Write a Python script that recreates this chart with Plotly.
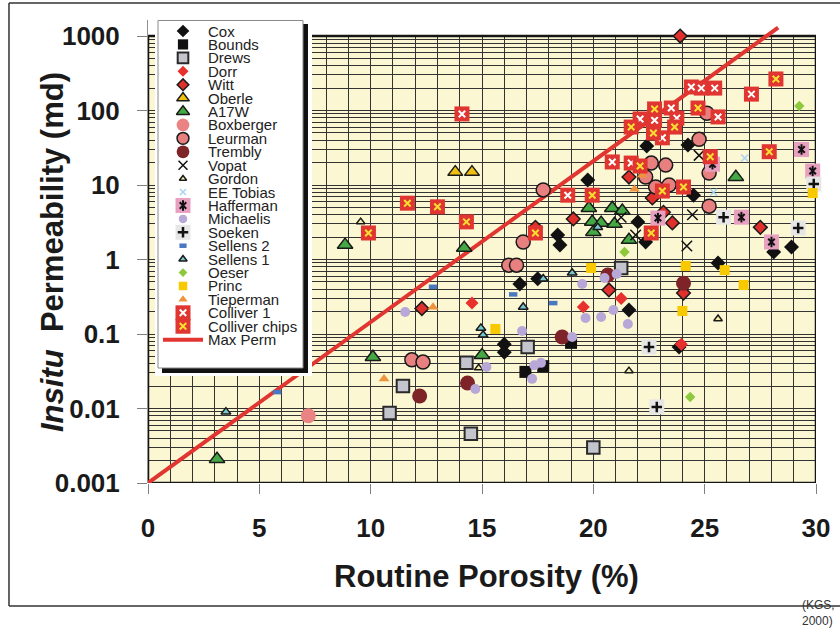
import plotly.graph_objects as go

# ---------------- data: routine porosity (%) vs in-situ permeability (md) ----------------
COX_PHI = [16.0, 16.0, 16.7, 17.5, 18.4, 18.5, 19.75, 22.0, 22.35, 22.4, 21.6, 23.85, 24.25, 24.5, 25.6, 28.1, 28.9]
COX_K = [0.073, 0.057, 0.47, 0.55, 2.13, 1.57, 11.7, 3.2, 1.72, 33.4, 0.21, 0.067, 34.4, 7.3, 0.90, 1.26, 1.47]

BOUNDS_PHI = [16.95, 17.75, 19.0]
BOUNDS_K = [0.031, 0.037, 0.076]

DREWS_PHI = [10.85, 11.45, 14.3, 14.5, 17.05, 20.0, 21.25]
DREWS_K = [0.0087, 0.020, 0.041, 0.0046, 0.067, 0.0030, 0.77]

DORR_PHI = [14.55, 19.55, 21.25, 23.95]
DORR_K = [0.26, 0.23, 0.30, 0.073]

WITT_PHI = [23.9, 17.4, 12.3, 19.1, 20.7, 21.6, 22.65, 23.15, 23.55, 24.05, 27.5]
WITT_K = [1000, 2.7, 0.22, 3.5, 0.39, 12.8, 6.7, 4.3, 3.1, 0.355, 2.7]

OBERLE_PHI = [13.8, 14.55]
OBERLE_K = [14.9, 14.9]

A17W_PHI = [3.1, 8.85, 10.1, 14.2, 15.0, 19.8, 20.0, 20.85, 21.3, 19.95, 20.35, 20.95, 21.6, 26.4]
A17W_K = [0.0021, 1.57, 0.049, 1.43, 0.052, 4.9, 2.34, 4.9, 4.5, 3.2, 3.1, 3.0, 1.83, 12.8]

BOXBERGER_PHI = [7.2]
BOXBERGER_K = [0.008]

LEURMAN_PHI = [11.85, 12.35, 16.2, 16.55, 16.85, 17.75, 22.35, 22.6, 22.8, 23.25, 23.4, 24.75, 25.1, 25.2, 25.2]
LEURMAN_K = [0.045, 0.042, 0.84, 0.84, 1.72, 8.6, 12.8, 19.7, 9.4, 18.5, 10.0, 41, 92, 14.5, 5.2]

TREMBLY_PHI = [12.2, 14.35, 18.6, 20.65, 24.05]
TREMBLY_K = [0.0147, 0.022, 0.091, 0.62, 0.48]

VOPAT_PHI = [21.25, 21.9, 24.2, 24.45, 24.75]
VOPAT_K = [3.7, 2.13, 1.52, 4.0, 25]

GORDON_PHI = [9.55, 14.85, 21.6, 25.6]
GORDON_K = [3.2, 0.035, 0.032, 0.16]

TOBIAS_PHI = [25.4, 26.8]
TOBIAS_K = [8.0, 23]

HAFFERMAN_PHI = [22.9, 25.35, 26.65, 28.0, 29.35, 29.85]
HAFFERMAN_K = [3.6, 19, 3.7, 1.72, 30, 15.4]

MICHAELIS_PHI = [11.55, 14.7, 15.2, 16.8, 17.25, 17.35, 17.65, 19.05, 19.5, 19.65, 20.35, 20.5, 21.05, 20.9, 21.55]
MICHAELIS_K = [0.197, 0.0183, 0.036, 0.110, 0.025, 0.038, 0.041, 0.091, 0.47, 0.164, 0.169, 0.565, 0.64, 0.21, 0.136]

SOEKEN_PHI = [22.5, 22.85, 25.85, 29.2, 29.9]
SOEKEN_K = [0.067, 0.0105, 3.7, 2.65, 10.3]

SELLENS2_PHI = [5.8, 12.8, 16.4, 18.2]
SELLENS2_K = [0.0166, 0.43, 0.34, 0.26]

SELLENS1_PHI = [3.5, 14.95, 15.05, 16.85, 17.75, 19.05, 20.2]
SELLENS1_K = [0.009, 0.12, 0.097, 0.23, 0.55, 0.66, 2.7]

OESER_PHI = [21.4, 24.35, 29.25]
OESER_K = [1.26, 0.0143, 115]

PRINC_PHI = [15.6, 19.9, 24.0, 24.15, 25.9, 26.75, 29.85]
PRINC_K = [0.117, 0.77, 0.204, 0.82, 0.72, 0.455, 7.8]

TIEPERMAN_PHI = [10.6, 12.8, 21.85, 22.2]
TIEPERMAN_K = [0.025, 0.23, 8.8, 13.6]

COLLIVER1_PHI = [14.1, 18.85, 20.85, 21.7, 22.1, 22.75, 23.1, 23.5, 23.75, 24.4, 24.85, 25.45, 25.6, 27.1]
COLLIVER1_K = [90, 7.3, 20.4, 19.7, 77, 74, 43, 108, 79, 207, 200, 200, 82, 166]

CHIPS_PHI = [11.65, 13.0, 14.3, 9.9, 17.4, 19.95, 21.7, 22.1, 22.6, 22.75, 22.7, 23.65, 23.1, 24.05, 24.7, 25.25, 27.9, 28.2]
CHIPS_K = [5.7, 5.1, 3.2, 2.27, 2.27, 7.3, 60, 18, 2.27, 105, 50, 60, 8.3, 9.4, 108, 24, 28, 265]

MAXPERM_PHI = [0, 28.3]
MAXPERM_K = [0.001, 1300]

X_TICKS = [0, 5, 10, 15, 20, 25, 30]
X_LABELS = ["0", "5", "10", "15", "20", "25", "30"]
Y_TICKS = [0.001, 0.01, 0.1, 1, 10, 100, 1000]
Y_LABELS = ["0.001", "0.01", "0.1", "1", "10", "100", "1000"]

# ---------------- styling ----------------
FONT = "Liberation Sans, Arial, sans-serif"
RED = "#e03530"
GRID = "#333333"
INK = "#1a1a1a"


def mk(symbol, size, color, lc=None, lw=0):
    return dict(symbol=symbol, size=size, color=color, line=dict(color=lc or color, width=lw))


SERIES = [
    ("Cox", COX_PHI, COX_K, [mk("diamond", 11.5, "#111111")]),
    ("Bounds", BOUNDS_PHI, BOUNDS_K, [mk("square", 12, "#111111")]),
    ("Drews", DREWS_PHI, DREWS_K, [mk("square", 12.5, "#c4c4cc", "#2a2a2a", 2)]),
    ("Dorr", DORR_PHI, DORR_K, [mk("diamond", 10, "#e8302c")]),
    ("Witt", WITT_PHI, WITT_K, [mk("diamond", 10.5, "#e0302c", INK, 1.5)]),
    ("Oberle", OBERLE_PHI, OBERLE_K, [mk("triangle-up", 13, "#f0c010", INK, 1.5)]),
    ("A17W", A17W_PHI, A17W_K, [mk("triangle-up", 13.5, "#44a844", INK, 1.5)]),
    ("Boxberger", BOXBERGER_PHI, BOXBERGER_K, [mk("circle", 15, "#ea8484")]),
    ("Leurman", LEURMAN_PHI, LEURMAN_K, [mk("circle", 14, "#e88080", INK, 1.5)]),
    ("Trembly", TREMBLY_PHI, TREMBLY_K, [mk("circle", 15, "#7e2428")]),
    ("Vopat", VOPAT_PHI, VOPAT_K, [mk("x-thin-open", 10.5, "#111111", lw=1.5)]),
    ("Gordon", GORDON_PHI, GORDON_K, [mk("triangle-up", 7.5, "#f8f0a8", INK, 1.5)]),
    ("EE Tobias", TOBIAS_PHI, TOBIAS_K, [mk("x-thin-open", 7, "#a8d4f0", lw=1.5)]),
    ("Hafferman", HAFFERMAN_PHI, HAFFERMAN_K, [mk("square", 15, "#e8a0c0"),
                                              mk("x-thin-open", 6.5, "#111111", lw=2),
                                              mk("line-ns-open", 7.5, "#111111", lw=2)]),
    ("Michaelis", MICHAELIS_PHI, MICHAELIS_K, [mk("circle", 10, "#b8a8d8")]),
    ("Soeken", SOEKEN_PHI, SOEKEN_K, [mk("square", 15, "#e6e6e6"),
                                      mk("cross-thin-open", 7.5, "#111111", lw=2.5)]),
    ("Sellens 2", SELLENS2_PHI, SELLENS2_K, [mk("line-ew-open", 6, "#4a78c0", lw=4.5)]),
    ("Sellens 1", SELLENS1_PHI, SELLENS1_K, [mk("triangle-up", 8.5, "#78c8d0", INK, 1.5)]),
    ("Oeser", OESER_PHI, OESER_K, [mk("diamond", 8, "#8ec83c")]),
    ("Princ", PRINC_PHI, PRINC_K, [mk("square", 10, "#f8c800")]),
    ("Tieperman", TIEPERMAN_PHI, TIEPERMAN_K, [mk("triangle-up", 9.5, "#f0943c")]),
    ("Colliver 1", COLLIVER1_PHI, COLLIVER1_K, [mk("square", 15, RED),
                                                mk("x-thin-open", 6.5, "#ffffff", lw=2)]),
    ("Colliver chips", CHIPS_PHI, CHIPS_K, [mk("square", 15, RED),
                                            mk("x-thin-open", 6.5, "#f8e030", lw=2)]),
]

fig = go.Figure()

# maximum permeability envelope (drawn first so the samples sit on top)
fig.add_trace(go.Scatter(x=MAXPERM_PHI, y=MAXPERM_K, mode="lines",
                         line=dict(color=RED, width=4), hoverinfo="skip", showlegend=False))

for name, phi, k, layers in SERIES:
    for m in layers:
        fig.add_trace(go.Scatter(x=phi, y=k, mode="markers", marker=m, name=name,
                                 showlegend=False, cliponaxis=False))

# ---------------- hand-built legend on its own small axes ----------------
LEG_X0, LEG_X1, LEG_Y0, LEG_Y1 = 158, 303, 20, 368
ROW0, ROW_STEP = 31, 13.42
SYM_X, TXT_X = 183, 206
LEG_FONT = dict(family=FONT, size=15, color="#222222")

annotations = []
for i, (name, phi, k, layers) in enumerate(SERIES):
    yy = ROW0 + i * ROW_STEP
    scale = 1.0 if len(layers) > 1 else 0.85
    for m in layers:
        lm = dict(m)
        lm["size"] = m["size"] * scale
        fig.add_trace(go.Scatter(x=[SYM_X], y=[yy], mode="markers", marker=lm,
                                 xaxis="x2", yaxis="y2", showlegend=False, hoverinfo="skip"))
    annotations.append(dict(x=TXT_X, y=yy, xref="x2", yref="y2", text=name, showarrow=False,
                            xanchor="left", yanchor="middle", font=LEG_FONT))

y_mp = ROW0 + len(SERIES) * ROW_STEP
fig.add_trace(go.Scatter(x=[163, 203], y=[y_mp, y_mp], mode="lines", line=dict(color=RED, width=4),
                         xaxis="x2", yaxis="y2", showlegend=False, hoverinfo="skip"))
annotations.append(dict(x=TXT_X, y=y_mp, xref="x2", yref="y2", text="Max Perm", showarrow=False,
                        xanchor="left", yanchor="middle", font=LEG_FONT))

# ---------------- axis titles and source note ----------------
annotations.append(dict(x=0.506, y=-0.203, xref="paper", yref="paper",
                        xanchor="center", yanchor="middle",
                        text="Routine Porosity (%)", showarrow=False,
                        font=dict(family=FONT, size=31, color=INK, weight="bold")))
annotations.append(dict(x=-0.1437, y=0.4989, xref="paper", yref="paper", textangle=-90,
                        xanchor="center", yanchor="middle",
                        text="<i>Insitu</i>&nbsp; Permeability (md)", showarrow=False,
                        font=dict(family=FONT, size=31, color=INK, weight="bold")))
annotations.append(dict(x=1.0314, y=-0.281, xref="paper", yref="paper",
                        xanchor="right", yanchor="middle",
                        text="(KGS,<br>2000)", showarrow=False, align="left",
                        font=dict(family=FONT, size=12, color="#333333")))

shapes = [
    # pale yellow plotting field
    dict(type="rect", xref="x", yref="y", x0=0, x1=30, y0=0.001, y1=1000,
         fillcolor="#fbf7d3", line=dict(width=0), layer="below"),
    # blank strip above the 1000 md line
    dict(type="rect", xref="x", yref="y", x0=-1, x1=31, y0=1000, y1=5000,
         fillcolor="#ffffff", line=dict(width=0), layer="between"),
    # plot frame
    dict(type="rect", xref="x", yref="y", x0=0, x1=30, y0=0.001, y1=1000,
         line=dict(color="#151515", width=2.5), fillcolor="rgba(0,0,0,0)", layer="between"),
    # legend shadow and box
    dict(type="rect", xref="x2", yref="y2", x0=162, x1=308, y0=24, y1=373,
         fillcolor="#111111", line=dict(width=0), layer="below"),
    dict(type="rect", xref="x2", yref="y2", x0=LEG_X0, x1=LEG_X1, y0=LEG_Y0 + 0.5, y1=LEG_Y1,
         fillcolor="#ffffff", line=dict(color="#8a8a8a", width=1), layer="below"),
    # outer border of the figure
    dict(type="line", xref="paper", yref="paper", x0=-0.2081, x1=-0.2081, y0=1.0367, y1=-0.2657,
         line=dict(color="#333333", width=1.5)),
    dict(type="line", xref="paper", yref="paper", x0=-0.2081, x1=1.06, y0=1.0367, y1=1.0367,
         line=dict(color="#333333", width=1.5)),
    dict(type="line", xref="paper", yref="paper", x0=-0.2081, x1=1.06, y0=-0.2657, y1=-0.2657,
         line=dict(color="#333333", width=1.5)),
]

fig.update_layout(
    template="none",
    width=840, height=629,
    margin=dict(l=148, r=24, t=20, b=146, pad=0),
    paper_bgcolor="#ffffff", plot_bgcolor="#ffffff",
    showlegend=False,
    xaxis=dict(range=[0, 30], tickvals=X_TICKS, ticktext=X_LABELS,
               ticks="outside", ticklen=10, tickwidth=1, tickcolor="#808080",
               showgrid=True, gridcolor=GRID, gridwidth=1,
               minor=dict(dtick=1, tick0=0, showgrid=True, gridcolor=GRID, gridwidth=1),
               showline=False, zeroline=False, ticklabelstandoff=12,
               tickfont=dict(family=FONT, size=26, color=INK, weight="bold")),
    yaxis=dict(type="log", range=[-3, 3.215], tickvals=Y_TICKS, ticktext=Y_LABELS,
               ticks="outside", ticklen=10, tickwidth=1, tickcolor="#808080",
               showgrid=True, gridcolor=GRID, gridwidth=1,
               minor=dict(dtick="D1", showgrid=True, gridcolor=GRID, gridwidth=1),
               showline=True, linecolor="#909090", linewidth=1, zeroline=False,
               ticklabelstandoff=12,
               tickfont=dict(family=FONT, size=26, color=INK, weight="bold")),
    xaxis2=dict(domain=[(155 - 148) / 668, (312 - 148) / 668], range=[155, 312],
                anchor="y2", visible=False, showgrid=False, zeroline=False),
    yaxis2=dict(domain=[(483 - 376) / 463, 1.0], range=[376, 20],
                anchor="x2", visible=False, showgrid=False, zeroline=False),
    shapes=shapes,
    annotations=annotations,
)

fig.write_html("out.html")
